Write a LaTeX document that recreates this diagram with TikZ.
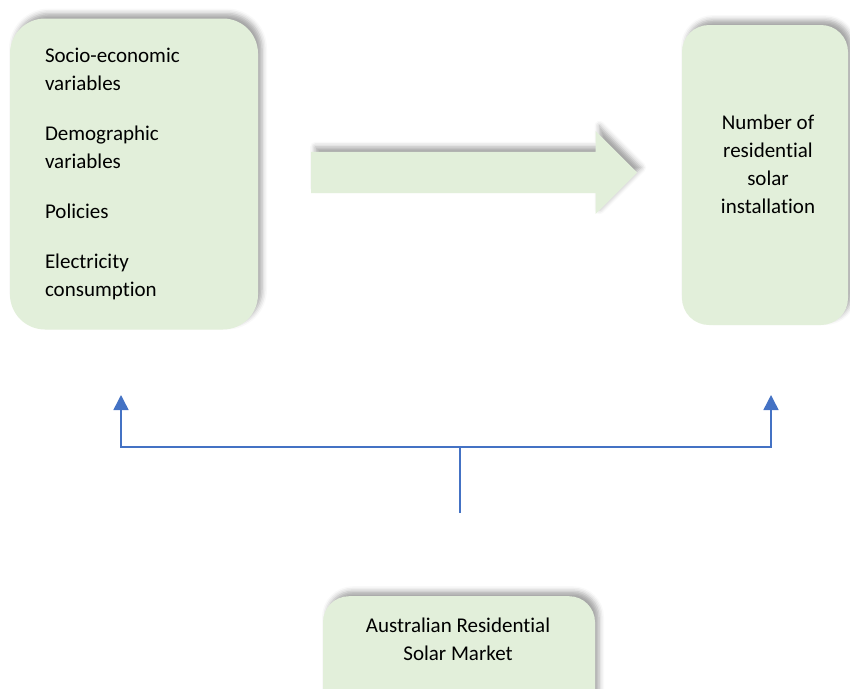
\documentclass[tikz,border=0pt]{standalone}
\usepackage{fontspec}
\setmainfont[Ligatures=NoCommon]{Carlito}
\usepackage{xcolor}
\usetikzlibrary{arrows.meta,positioning,shapes.arrows,shadows.blur}
\definecolor{paleGreen}{HTML}{E2EFDA}
\definecolor{linkBlue}{HTML}{4472C4}

\begin{document}
\begin{tikzpicture}[x=1pt,y=1pt,
  every node/.style={font=\fontsize{21}{28}\selectfont},
  glow/.style={blur shadow={shadow xshift=4pt,shadow yshift=5pt,shadow blur radius=5pt,shadow opacity=35}},
  panel/.style={fill=paleGreen,draw=none,rounded corners=#1,glow},
  link/.style={draw=linkBlue,line width=1.5pt,-{Triangle[width=15pt,length=15pt]}}]
  \clip (0,0) rectangle (850,-688);
  \useasboundingbox (0,0) rectangle (850,-688);
  % factors on the left
  \node[panel=35pt,minimum height=311pt,text width=178pt,inner xsep=35pt,align=left] (drivers) at (134,-174)
    {Socio-economic\\variables\\[22pt]Demographic\\variables\\[22pt]Policies\\[22pt]Electricity\\consumption};
  % big arrow and outcome
  \node[single arrow,fill=paleGreen,glow,minimum height=326pt,single arrow head extend=21pt,inner xsep=0pt,inner ysep=20.5pt,anchor=tail] (flow) at (311,-172.5) {};
  \node[panel=27pt,minimum width=166pt,minimum height=300pt] (outcome) at (765,-175) {};
  \node[align=center] (outcomelabel) at (768,-164) {Number of\\residential\\solar\\installation};
  % market at the bottom
  \node[panel=26pt,minimum width=272pt,minimum height=160pt,anchor=north] (market) at (459,-596) {};
  \node[align=center] (marketlabel) at (458,-639) {Australian Residential\\Solar Market};
  % connectors
  \coordinate (stem) at (460,-513);
  \coordinate (fork) at (460,-447);
  \coordinate (tipL) at (121,-395);
  \coordinate (tipR) at (771,-395);
  \draw[link] (stem) -- (fork) -| (tipL);
  \draw[link] (fork) -| (tipR);
\end{tikzpicture}
\end{document}
